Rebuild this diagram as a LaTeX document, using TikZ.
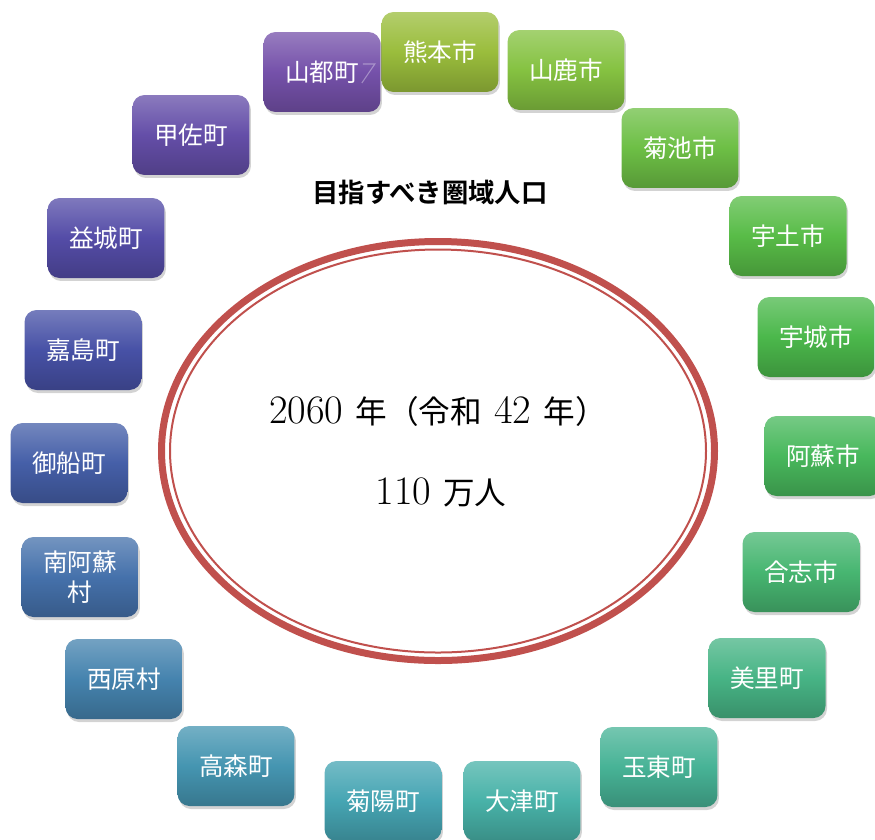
\documentclass[tikz,border=0pt]{standalone}
\usepackage{fontspec}
\usepackage{xcolor}
\usetikzlibrary{shapes,positioning,shadows,calc}
\newfontfamily\cjk{Noto Sans CJK JP}[BoldFont={Noto Sans CJK JP Bold}]

% box colours, going round the cycle
\definecolor{kumamoto}{HTML}{9ABD3C}
\definecolor{yamaga}{HTML}{85C241}
\definecolor{kikuchi}{HTML}{6DBF45}
\definecolor{uto}{HTML}{58BC47}
\definecolor{uki}{HTML}{4BB84B}
\definecolor{aso}{HTML}{48B85C}
\definecolor{koshi}{HTML}{47B671}
\definecolor{misato}{HTML}{47B485}
\definecolor{gyokuto}{HTML}{47B396}
\definecolor{ozu}{HTML}{48B2A8}
\definecolor{kikuyo}{HTML}{46A5B3}
\definecolor{takamori}{HTML}{4595B1}
\definecolor{nishihara}{HTML}{4583AE}
\definecolor{minamiaso}{HTML}{4571AB}
\definecolor{mifune}{HTML}{455FA8}
\definecolor{kashima}{HTML}{4751A6}
\definecolor{mashiki}{HTML}{544CA7}
\definecolor{kosa}{HTML}{644EA8}
\definecolor{yamato}{HTML}{7551AA}
\definecolor{ringred}{HTML}{C0504D}

\tikzset{
  townbox/.style={rectangle, rounded corners=0.24cm, minimum width=2.34cm,
    minimum height=1.6cm, align=center, text=white,
    font=\cjk\fontsize{14}{17}\selectfont,
    drop shadow={opacity=0.35, shadow xshift=0.03cm, shadow yshift=-0.06cm}},
  ringthick/.style={draw=ringred, line width=0.14cm},
  ringthin/.style={draw=ringred, line width=0.04cm},
  chevron/.style={draw=white, opacity=0.35, line width=0.6pt},
  bigtext/.style={font=\fontsize{23}{26}\selectfont}
}

\begin{document}
\begin{tikzpicture}[x=0.02cm, y=-0.02cm]
\useasboundingbox (0,0) rectangle (875,839);

% Title
\node[font=\cjk\bfseries\fontsize{15}{18}\selectfont] (title) at (430,192) {目指すべき圏域人口};

% Centre ring
\coordinate (mid) at (438,451);
\draw[ringthick] (mid) ellipse [x radius=276.5, y radius=209.5];
\draw[ringthin] (mid) ellipse [x radius=268, y radius=201.5];
\node[bigtext] (year) at (438,411) {2060 {\cjk\fontsize{18}{21}\selectfont 年（令和} 42 {\cjk\fontsize{18}{21}\selectfont 年）}};
\node[bigtext] (people) at (441,492) {110 {\cjk\fontsize{18}{21}\selectfont 万人}};

% Towns round the ring
\foreach \n/\t/\x/\y in {kumamoto/熊本市/440/52, yamaga/山鹿市/566/70,
    kikuchi/菊池市/680/148, uto/宇土市/788/236, uki/宇城市/816/337,
    aso/阿蘇市/823/456, koshi/合志市/801/572, misato/美里町/767/678,
    gyokuto/玉東町/659/767, ozu/大津町/522/801, kikuyo/菊陽町/383/801,
    takamori/高森町/236/766, nishihara/西原村/124/679,
    minamiaso/{南阿蘇\\村}/80/577, mifune/御船町/69/463,
    kashima/嘉島町/83/350, mashiki/益城町/106/238, kosa/甲佐町/191/135,
    yamato/山都町/322/72}
  \node[townbox, top color=\n!75!white, bottom color=\n!80!black, middle color=\n] (\n) at (\x,\y) {\t};

% faint cycle arrow tip
\draw[chevron] ([shift={(-18,-8)}]yamato.east) -- ++(12,0) -- ++(-13,19);

\end{tikzpicture}
\end{document}
